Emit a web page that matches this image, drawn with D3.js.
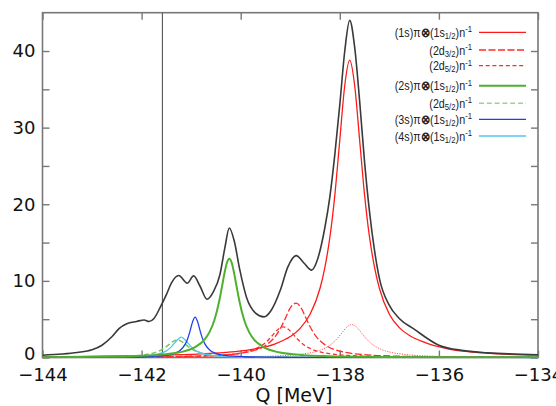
<!DOCTYPE html>
<html><head><meta charset="utf-8">
<script src="https://cdn.jsdelivr.net/npm/d3@7"></script>
<style>body{margin:0;background:#fff}svg{display:block}</style>
</head><body>
<svg id="chart" width="556" height="406"></svg>
<script>
// ---------- data ----------
const xTicks = [-144, -142, -140, -138, -136, -134];
const yTicks = [0, 10, 20, 30, 40];
const yAllTicks = [0, 5, 10, 15, 20, 25, 30, 35, 40, 45];
const xLabel = "Q [MeV]";
const thresholdQ = -141.58;

const totalCurve = [[-144,0.3],[-143.6,0.45],[-143.3,0.65],[-143.0,1.0],[-142.8,1.6],[-142.6,2.7],[-142.45,3.8],[-142.3,4.4],[-142.1,4.7],[-141.95,4.9],[-141.85,4.7],[-141.75,5.1],[-141.62,6.6],[-141.5,8.2],[-141.4,9.7],[-141.25,10.7],[-141.08,9.7],[-140.95,10.65],[-140.82,9.3],[-140.68,7.6],[-140.55,8.6],[-140.42,10.8],[-140.32,14.3],[-140.23,16.9],[-140.13,15.2],[-140.02,11.5],[-139.88,7.8],[-139.7,5.8],[-139.53,5.3],[-139.38,6.2],[-139.2,8.8],[-139.05,11.8],[-138.88,13.3],[-138.72,12.3],[-138.57,11.4],[-138.45,12.8],[-138.3,17],[-138.2,21],[-138.1,26.5],[-138.0,33],[-137.9,40],[-137.8,44],[-137.7,40.5],[-137.6,33.5],[-137.5,25.5],[-137.4,19],[-137.3,14],[-137.2,10.3],[-137.0,6.8],[-136.8,5.1],[-136.5,3.7],[-136.0,1.6],[-135.5,0.9],[-135.0,0.6],[-134.5,0.45],[-134,0.35]];

const s1Curve = [[-144,0.11],[-143,0.15],[-142,0.24],[-141,0.41],[-140.3,0.66],[-139.8,1.03],[-139.3,1.79],[-139,2.73],[-138.8,3.81],[-138.6,5.64],[-138.4,9.0],[-138.3,11.8],[-138.2,15.7],[-138.1,21.2],[-138.0,28.4],[-137.9,35.5],[-137.8,38.8],[-137.7,35.5],[-137.6,28.4],[-137.5,21.2],[-137.4,15.7],[-137.3,11.8],[-137.2,9.0],[-137.0,5.64],[-136.8,3.9],[-136.6,2.9],[-136.3,2.0],[-135.8,1.1],[-135.3,0.7],[-134.8,0.48],[-134,0.3]];

const d32Curve = [[-144,0.03],[-142,0.07],[-141,0.16],[-140.4,0.31],[-139.9,0.66],[-139.7,0.98],[-139.5,1.57],[-139.3,2.77],[-139.2,3.78],[-139.1,5.1],[-139.0,6.47],[-138.88,7.1],[-138.78,6.47],[-138.68,5.1],[-138.58,3.78],[-138.48,2.77],[-138.28,1.57],[-138.08,0.98],[-137.88,0.66],[-137.38,0.31],[-136.88,0.18],[-135.88,0.08],[-134,0.04]];

const d52Curve = [[-144,0.02],[-142.14,0.054],[-141.14,0.12],[-140.64,0.21],[-140.14,0.44],[-139.94,0.64],[-139.74,1.02],[-139.54,1.73],[-139.44,2.31],[-139.34,3.02],[-139.24,3.7],[-139.14,4.0],[-139.04,3.7],[-138.94,3.02],[-138.84,2.31],[-138.74,1.73],[-138.54,1.02],[-138.34,0.64],[-138.14,0.44],[-137.64,0.21],[-137.14,0.12],[-136.14,0.054],[-134,0.02]];

const dottedCurve = [[-144,0.015],[-141.76,0.03],[-140.76,0.055],[-139.76,0.12],[-139.26,0.21],[-138.76,0.45],[-138.56,0.66],[-138.36,1.05],[-138.16,1.8],[-138.06,2.42],[-137.96,3.19],[-137.86,3.96],[-137.76,4.3],[-137.66,3.96],[-137.56,3.19],[-137.46,2.42],[-137.36,1.8],[-137.16,1.05],[-136.96,0.66],[-136.76,0.45],[-136.26,0.21],[-135.76,0.12],[-134.76,0.055],[-134,0.035]];

const s2Curve = [[-144,0.035],[-143.23,0.079],[-142.23,0.176],[-141.73,0.31],[-141.23,0.675],[-140.93,1.31],[-140.73,2.33],[-140.63,3.31],[-140.53,4.9],[-140.43,7.48],[-140.38,9.17],[-140.33,10.92],[-140.28,12.34],[-140.23,12.9],[-140.18,12.34],[-140.13,10.92],[-140.08,9.17],[-140.03,7.48],[-139.93,4.9],[-139.83,3.31],[-139.73,2.33],[-139.53,1.31],[-139.23,0.675],[-138.73,0.31],[-138.23,0.176],[-137.23,0.079],[-136.23,0.044],[-134,0.02]];

const s2d52Curve = [[-144,0.02],[-143.28,0.044],[-142.78,0.077],[-142.28,0.167],[-142.08,0.25],[-141.88,0.41],[-141.68,0.757],[-141.58,1.07],[-141.48,1.52],[-141.38,2.04],[-141.28,2.3],[-141.18,2.04],[-141.08,1.52],[-140.98,1.07],[-140.88,0.757],[-140.68,0.41],[-140.48,0.25],[-140.28,0.167],[-139.78,0.077],[-139.28,0.044],[-138,0.017],[-134,0.005]];

const s3Curve = [[-144,0.011],[-142.92,0.026],[-142.42,0.045],[-141.92,0.10],[-141.52,0.27],[-141.32,0.58],[-141.22,0.94],[-141.12,1.74],[-141.07,2.46],[-141.02,3.5],[-140.97,4.68],[-140.92,5.28],[-140.87,4.68],[-140.82,3.5],[-140.77,2.46],[-140.72,1.74],[-140.62,0.94],[-140.52,0.58],[-140.32,0.27],[-139.92,0.10],[-139.42,0.045],[-138.92,0.026],[-137.92,0.011],[-134,0.003]];

const s4Curve = [[-144,0.015],[-143.2,0.029],[-142.4,0.079],[-142.0,0.17],[-141.7,0.40],[-141.5,0.87],[-141.4,1.39],[-141.3,2.16],[-141.2,2.65],[-141.1,2.16],[-141.0,1.39],[-140.9,0.87],[-140.7,0.40],[-140.4,0.17],[-140.0,0.079],[-139.2,0.029],[-137,0.007],[-134,0.003]];

// legend label parts: [text, kind]
const lblS1 = [["(1s)π",""],["⊗","b"],["(1s",""],["1/2","sub"],[")n",""],["-1","sup"]];
const lblD32 = [["(2d",""],["3/2","sub"],[")n",""],["-1","sup"]];
const lblD52 = [["(2d",""],["5/2","sub"],[")n",""],["-1","sup"]];
const lblS2 = [["(2s)π",""],["⊗","b"],["(1s",""],["1/2","sub"],[")n",""],["-1","sup"]];
const lblS3 = [["(3s)π",""],["⊗","b"],["(1s",""],["1/2","sub"],[")n",""],["-1","sup"]];
const lblS4 = [["(4s)π",""],["⊗","b"],["(1s",""],["1/2","sub"],[")n",""],["-1","sup"]];

// ---------- drawing ----------
const svg = d3.select("#chart");
const L = 42.5, R = 538, T = 12.7, B = 357.5;
const x = d3.scaleLinear().domain([-144, -134]).range([L, R]);
const y = d3.scaleLinear().domain([0, 45]).range([B, T]);
const frameColor = "#787878";
const font = "DejaVu Sans, sans-serif";

svg.append("defs").append("clipPath").attr("id","clip")
  .append("rect").attr("x", L).attr("y", T).attr("width", R - L).attr("height", B - T + 1);

// frame
svg.append("rect").attr("x", L).attr("y", T).attr("width", R - L).attr("height", B - T)
  .attr("fill", "none").attr("stroke", frameColor).attr("stroke-width", 1.6);

// axes
const ax = svg.append("g").attr("transform", `translate(0,${B})`)
  .call(d3.axisBottom(x).tickValues(xTicks).tickSizeInner(-7).tickSizeOuter(0).tickPadding(11).tickFormat(d3.format("d")));
const ay = svg.append("g").attr("transform", `translate(${L},0)`)
  .call(d3.axisLeft(y).tickValues(yAllTicks.filter(v => v < 45)).tickSizeInner(-7).tickSizeOuter(0).tickPadding(7)
    .tickFormat(v => yTicks.includes(v) ? d3.format("d")(v) : ""));
const axTop = svg.append("g").attr("transform", `translate(0,${T})`)
  .call(d3.axisTop(x).tickValues(xTicks).tickSizeInner(-7).tickSizeOuter(0).tickFormat(""));
const ayR = svg.append("g").attr("transform", `translate(${R},0)`)
  .call(d3.axisRight(y).tickValues(yAllTicks.filter(v => v < 45)).tickSizeInner(-7).tickSizeOuter(0).tickFormat(""));
[ax, ay, axTop, ayR].forEach(g => {
  g.select(".domain").remove();
  g.selectAll(".tick line").attr("stroke", frameColor).attr("stroke-width", 1.4);
  g.selectAll("text").attr("font-family", font).attr("font-size", 18).attr("fill", "#111");
});
ax.selectAll(".tick text").attr("dy", "0.72em");
ay.selectAll(".tick").filter(d => d === 0).select("text").attr("dy", "0.1em");

// x label
svg.append("text").attr("x", 294).attr("y", 402).attr("text-anchor", "middle")
  .attr("font-family", font).attr("font-size", 19).attr("fill", "#111").text(xLabel);

// threshold line
svg.append("line").attr("x1", x(thresholdQ)).attr("x2", x(thresholdQ)).attr("y1", T).attr("y2", B)
  .attr("stroke", "#555").attr("stroke-width", 1.1);

// curves
const series = [
  { data: dottedCurve, color: "#ff5555", width: 1.0, dash: "1.2,1.3" },
  { data: d52Curve, color: "#ff2a2a", width: 1.3, dash: "4,2.7" },
  { data: d32Curve, color: "#ff2a2a", width: 1.3, dash: "7,2.5" },
  { data: s1Curve, color: "#ff1a1a", width: 1.3, dash: null },
  { data: s2d52Curve, color: "#7cc860", width: 1.6, dash: "5,2.8" },
  { data: s4Curve, color: "#55c5f0", width: 1.3, dash: null },
  { data: s3Curve, color: "#2040e6", width: 1.3, dash: null },
  { data: s2Curve, color: "#4fb030", width: 2.0, dash: null },
  { data: totalCurve, color: "#3a3a3a", width: 1.6, dash: null }
];
const line = d3.line().x(d => x(d[0])).y(d => y(d[1])).curve(d3.curveMonotoneX);
const cg = svg.append("g").attr("clip-path", "url(#clip)");
series.forEach(s => {
  cg.append("path").attr("d", line(s.data)).attr("fill", "none")
    .attr("stroke", s.color).attr("stroke-width", s.width)
    .attr("stroke-dasharray", s.dash);
});

// legend
const legend = [
  { parts: lblS1, y: 32.3, color: "#ff1a1a", width: 1.3, dash: null },
  { parts: lblD32, y: 50, color: "#ff2a2a", width: 1.3, dash: "7,2.5" },
  { parts: lblD52, y: 65.7, color: "#ff2a2a", width: 1.3, dash: "4,2.7" },
  { parts: lblS2, y: 85.7, color: "#4fb030", width: 2.0, dash: null },
  { parts: lblD52, y: 103.3, color: "#9ed682", width: 1.6, dash: "5,2.8" },
  { parts: lblS3, y: 119.3, color: "#2040e6", width: 1.3, dash: null },
  { parts: lblS4, y: 136, color: "#55c5f0", width: 1.3, dash: null }
];
const lg = svg.append("g");
legend.forEach(it => {
  lg.append("line").attr("x1", 479).attr("x2", 526).attr("y1", it.y).attr("y2", it.y)
    .attr("stroke", it.color).attr("stroke-width", it.width).attr("stroke-dasharray", it.dash);
  const t = lg.append("text").attr("x", 0).attr("y", 0).attr("text-anchor", "end")
    .attr("transform", `translate(472,${it.y + 4.5}) scale(0.86,1)`)
    .attr("font-family", "Liberation Sans, Arial, sans-serif").attr("font-size", 12.5).attr("fill", "#222");
  let shift = 0;
  it.parts.forEach(([s, k]) => {
    const target = k === "sub" ? 2 : k === "sup" ? -4.5 : 0;
    const ts = t.append("tspan").attr("dy", target - shift).text(s);
    if (k === "sub" || k === "sup") ts.attr("font-size", 9);
    if (k === "b") ts.attr("font-weight", "bold").attr("font-size", 13);
    shift = target;
  });
});
</script>
</body></html>
